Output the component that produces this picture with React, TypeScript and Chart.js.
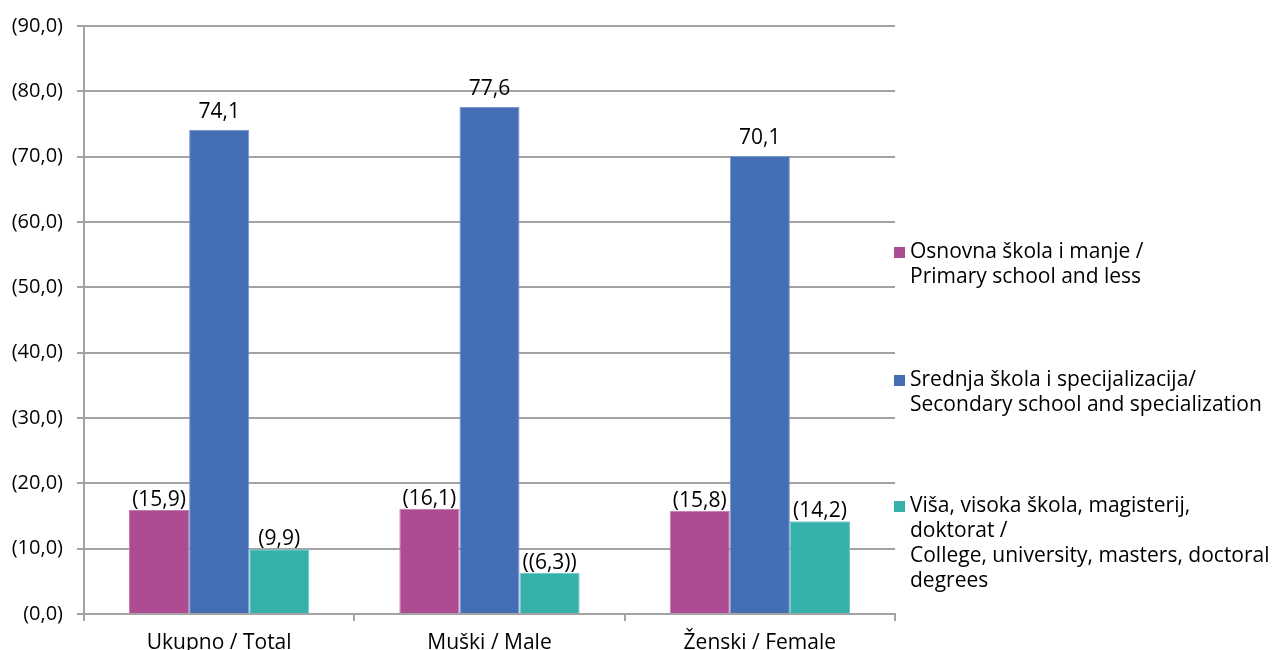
import React, { useEffect, useRef } from "react";
import { Chart, registerables } from "chart.js";

Chart.register(...registerables);

const categories = ["Ukupno / Total", "Muški / Male", "Ženski / Female"];
const primaryValues = [15.9, 16.1, 15.8];
const secondaryValues = [74.1, 77.6, 70.1];
const tertiaryValues = [9.9, 6.3, 14.2];
const primaryLabels = ["(15,9)", "(16,1)", "(15,8)"];
const secondaryLabels = ["74,1", "77,6", "70,1"];
const tertiaryLabels = ["(9,9)", "((6,3))", "(14,2)"];
const yTickLabels = ["(0,0)", "(10,0)", "(20,0)", "(30,0)", "(40,0)", "(50,0)", "(60,0)", "(70,0)", "(80,0)", "(90,0)"];
const legendLines = [
  ["Osnovna škola i manje /", "Primary school and less"],
  ["Srednja škola i specijalizacija/", "Secondary school and specialization"],
  ["Viša, visoka škola, magisterij,", "doktorat /", "College, university, masters, doctoral", "degrees"],
];

const COLORS = ["#AD4B93", "#456FB5", "#35B0AA"];
const BORDERS = ["#C47AB0", "#7A98CB", "#6FC8C3"];
const FONT = "'Open Sans', sans-serif";
const GRID = "#A3A3A3";

const labelPlugin = {
  id: "barLabels",
  afterDatasetsDraw(chart: any) {
    const ctx = chart.ctx;
    ctx.save();
    ctx.font = `21px ${FONT}`;
    ctx.fillStyle = "#000";
    ctx.textAlign = "center";
    ctx.textBaseline = "alphabetic";
    chart.data.datasets.forEach((ds: any, di: number) => {
      const meta = chart.getDatasetMeta(di);
      meta.data.forEach((el: any, i: number) => {
        const off = di === 1 ? 12 : 4;
        ctx.fillText(ds.valueLabels[i], el.x, el.y - off);
      });
    });
    ctx.restore();
  },
};

export default function App() {
  const ref = useRef<HTMLCanvasElement>(null);
  useEffect(() => {
    if (!ref.current) return;
    const chart = new Chart(ref.current, {
      type: "bar",
      data: {
        labels: categories,
        datasets: [
          { label: legendLines[0].join(" "), data: primaryValues, valueLabels: primaryLabels, backgroundColor: COLORS[0], borderColor: BORDERS[0], borderWidth: 1 } as any,
          { label: legendLines[1].join(" "), data: secondaryValues, valueLabels: secondaryLabels, backgroundColor: COLORS[1], borderColor: BORDERS[1], borderWidth: 1 } as any,
          { label: legendLines[2].join(" "), data: tertiaryValues, valueLabels: tertiaryLabels, backgroundColor: COLORS[2], borderColor: BORDERS[2], borderWidth: 1 } as any,
        ],
      },
      options: {
        responsive: false,
        animation: false,
        layout: { padding: { top: 26, right: 379, left: 0, bottom: 0 } },
        plugins: { legend: { display: false }, tooltip: { enabled: false } },
        datasets: { bar: { categoryPercentage: 0.667, barPercentage: 1 } },
        scales: {
          x: {
            grid: { offset: true, drawOnChartArea: false, color: GRID, lineWidth: 2, tickLength: 7 },
            border: { color: GRID, width: 2 },
            ticks: { color: "#000", font: { family: FONT, size: 21 }, padding: 9 },
            afterFit: (s: any) => { s.height = 36; },
          },
          y: {
            min: 0,
            max: 90,
            ticks: {
              stepSize: 10,
              color: "#000",
              font: { family: FONT, size: 20 },
              padding: 14,
              callback: (_v: any, i: number) => yTickLabels[i],
            },
            grid: { color: GRID, lineWidth: 2, tickLength: 7 },
            border: { color: GRID, width: 2 },
            afterFit: (s: any) => { s.width = 84; },
          },
        },
      },
      plugins: [labelPlugin],
    });
    return () => chart.destroy();
  }, []);

  const tops = [238, 366, 492];
  return (
    <div style={{ position: "absolute", left: 0, top: 0, width: 1274, height: 650, background: "#fff" }}>
      <canvas ref={ref} width={1274} height={650} style={{ position: "absolute", left: 0, top: 0 }} />
      {legendLines.map((lines, i) => (
        <div key={i} style={{ position: "absolute", left: 894, top: tops[i], fontFamily: FONT, fontSize: 21, lineHeight: "25px", color: "#000" }}>
          <span style={{ position: "absolute", left: 0, top: 9, width: 11, height: 11, background: COLORS[i] }} />
          <div style={{ marginLeft: 16, whiteSpace: "nowrap" }}>
            {lines.map((l, j) => (<div key={j}>{l}</div>))}
          </div>
        </div>
      ))}
    </div>
  );
}
